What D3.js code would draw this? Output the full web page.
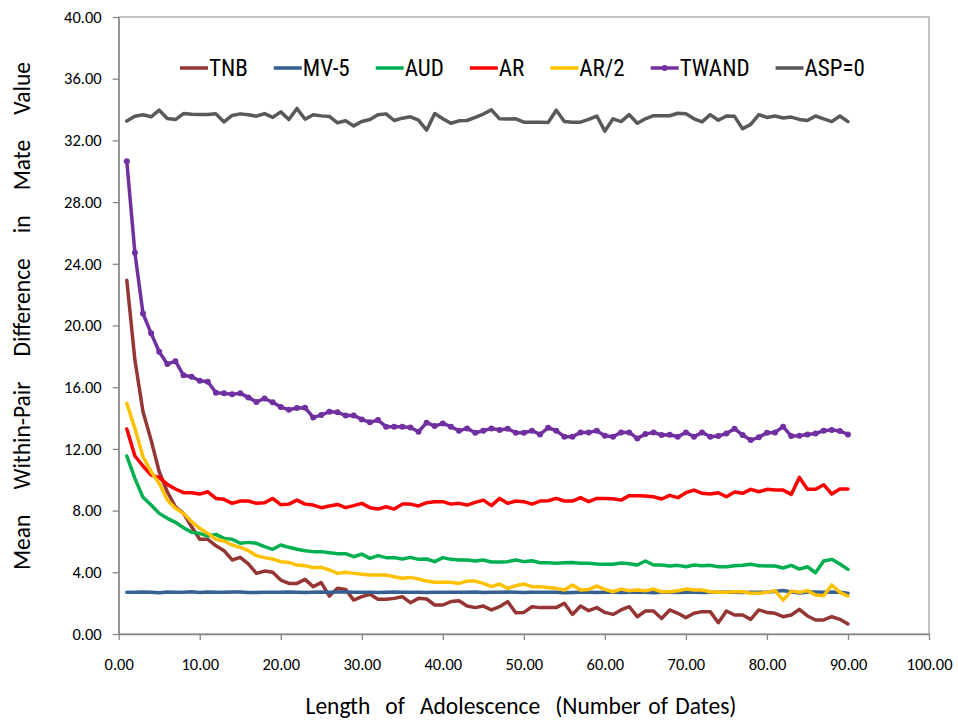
<!DOCTYPE html>
<html>
<head>
<meta charset="utf-8">
<script src="https://cdn.jsdelivr.net/npm/d3@7"></script>
<style>
  html, body { margin: 0; padding: 0; background: #fff; }
  svg { display: block; }
  .tick-label { font-family: Carlito, Lato, sans-serif; font-size: 16.5px; fill: #000; }
  .axis-title { font-family: Carlito, Lato, sans-serif; font-size: 23.5px; fill: #000; }
  .legend-label { font-family: "Liberation Sans Narrow", "Roboto Condensed", Lato, sans-serif; font-size: 23px; fill: #000; }
</style>
</head>
<body>
<svg id="chart" width="958" height="722"></svg>
<script>
// ── Data (x = 1..90 dates, one value per date) ─────────────────
const SERIES_NAMES  = ['TNB', 'MV-5', 'AUD', 'AR', 'AR/2', 'TWAND', 'ASP=0'];
const SERIES_COLORS = ['#943634', '#376092', '#00B050', '#FF0000', '#FFC000', '#7030A0', '#595959'];

const TNB = [22.94, 17.76, 14.41, 12.57, 10.52, 9.22, 8.25, 7.82, 6.95, 6.14,
  6.14, 5.72, 5.40, 4.80, 4.97, 4.54, 3.93, 4.08, 4.00, 3.50,
  3.28, 3.28, 3.54, 3.07, 3.33, 2.46, 2.96, 2.89, 2.20, 2.42,
  2.57, 2.25, 2.25, 2.31, 2.42, 2.03, 2.31, 2.27, 1.88, 1.88,
  2.10, 2.16, 1.81, 1.71, 1.81, 1.56, 1.77, 2.10, 1.38, 1.40,
  1.77, 1.71, 1.71, 1.71, 1.99, 1.27, 1.81, 1.51, 1.71, 1.40,
  1.27, 1.56, 1.77, 1.12, 1.49, 1.49, 1.01, 1.56, 1.34, 1.06,
  1.34, 1.45, 1.45, 0.73, 1.49, 1.23, 1.23, 0.95, 1.56, 1.40,
  1.34, 1.12, 1.23, 1.60, 1.17, 0.91, 0.91, 1.12, 0.95, 0.65];

const MV5 = [2.70, 2.70, 2.72, 2.70, 2.68, 2.73, 2.70, 2.70, 2.74, 2.69,
  2.73, 2.70, 2.71, 2.72, 2.73, 2.69, 2.69, 2.70, 2.70, 2.71,
  2.72, 2.70, 2.69, 2.71, 2.73, 2.70, 2.72, 2.72, 2.71, 2.70,
  2.70, 2.69, 2.71, 2.72, 2.70, 2.70, 2.71, 2.69, 2.70, 2.71,
  2.70, 2.71, 2.70, 2.72, 2.69, 2.70, 2.71, 2.72, 2.70, 2.69,
  2.70, 2.71, 2.70, 2.70, 2.68, 2.69, 2.71, 2.70, 2.69, 2.70,
  2.71, 2.69, 2.70, 2.71, 2.70, 2.68, 2.70, 2.70, 2.69, 2.71,
  2.70, 2.69, 2.70, 2.70, 2.72, 2.70, 2.69, 2.71, 2.70, 2.72,
  2.76, 2.82, 2.72, 2.66, 2.72, 2.73, 2.70, 2.73, 2.70, 2.64];

const AUD = [11.54, 10.09, 8.86, 8.36, 7.82, 7.50, 7.24, 6.89, 6.59, 6.52,
  6.35, 6.46, 6.20, 6.14, 5.88, 5.94, 5.88, 5.66, 5.49, 5.77,
  5.62, 5.49, 5.40, 5.34, 5.34, 5.27, 5.21, 5.21, 5.01, 5.18,
  4.90, 5.08, 4.95, 4.95, 4.86, 4.97, 4.84, 4.86, 4.69, 4.95,
  4.84, 4.80, 4.80, 4.73, 4.80, 4.67, 4.67, 4.69, 4.80, 4.69,
  4.75, 4.62, 4.62, 4.58, 4.62, 4.64, 4.58, 4.58, 4.54, 4.52,
  4.52, 4.60, 4.56, 4.47, 4.73, 4.47, 4.47, 4.41, 4.45, 4.36,
  4.47, 4.43, 4.45, 4.36, 4.36, 4.43, 4.45, 4.52, 4.43, 4.41,
  4.41, 4.28, 4.45, 4.21, 4.36, 3.97, 4.73, 4.84, 4.54, 4.19];

const AR = [13.29, 11.54, 10.89, 10.30, 10.15, 9.70, 9.40, 9.16, 9.16, 9.07,
  9.22, 8.79, 8.73, 8.47, 8.62, 8.62, 8.47, 8.51, 8.79, 8.38,
  8.42, 8.68, 8.42, 8.36, 8.19, 8.30, 8.40, 8.19, 8.32, 8.47,
  8.19, 8.10, 8.25, 8.10, 8.42, 8.42, 8.30, 8.51, 8.58, 8.58,
  8.42, 8.47, 8.36, 8.53, 8.68, 8.32, 8.79, 8.47, 8.62, 8.58,
  8.42, 8.62, 8.64, 8.79, 8.62, 8.62, 8.84, 8.58, 8.79, 8.79,
  8.77, 8.68, 8.97, 8.97, 8.94, 8.90, 8.75, 8.99, 8.84, 9.16,
  9.33, 9.12, 9.07, 9.16, 8.90, 9.20, 9.12, 9.38, 9.22, 9.38,
  9.33, 9.33, 9.05, 10.15, 9.38, 9.38, 9.68, 9.07, 9.40, 9.40];

const AR_HALF = [14.95, 13.33, 11.49, 10.52, 9.77, 8.68, 8.15, 7.82, 7.28, 6.85,
  6.52, 6.14, 6.03, 5.77, 5.62, 5.40, 5.08, 4.95, 4.86, 4.69,
  4.64, 4.47, 4.43, 4.30, 4.32, 4.15, 3.93, 4.00, 3.93, 3.87,
  3.82, 3.82, 3.82, 3.71, 3.61, 3.67, 3.56, 3.43, 3.35, 3.35,
  3.35, 3.28, 3.43, 3.43, 3.28, 3.07, 3.24, 2.96, 3.13, 3.24,
  3.07, 3.07, 3.02, 2.96, 2.85, 3.18, 2.85, 2.89, 3.11, 2.89,
  2.74, 2.91, 2.81, 2.85, 2.81, 2.91, 2.74, 2.74, 2.81, 2.91,
  2.85, 2.85, 2.74, 2.70, 2.70, 2.74, 2.74, 2.64, 2.64, 2.70,
  2.81, 2.20, 2.78, 2.70, 2.81, 2.53, 2.48, 3.18, 2.70, 2.46];

const TWAND = [30.65, 24.71, 20.78, 19.49, 18.30, 17.50, 17.69, 16.77, 16.68, 16.42,
  16.35, 15.64, 15.60, 15.55, 15.60, 15.34, 15.04, 15.27, 15.02, 14.71,
  14.54, 14.65, 14.67, 14.04, 14.19, 14.41, 14.37, 14.17, 14.17, 13.91,
  13.72, 13.87, 13.44, 13.44, 13.44, 13.39, 13.11, 13.70, 13.48, 13.65,
  13.44, 13.18, 13.33, 13.05, 13.18, 13.33, 13.22, 13.31, 13.05, 13.05,
  13.18, 12.94, 13.37, 13.18, 12.79, 12.79, 13.07, 13.07, 13.18, 12.85,
  12.79, 13.07, 13.07, 12.68, 12.96, 13.07, 12.90, 12.92, 12.79, 13.07,
  12.79, 13.07, 12.79, 12.83, 13.00, 13.31, 12.90, 12.57, 12.75, 13.05,
  13.07, 13.44, 12.83, 12.85, 12.94, 13.00, 13.18, 13.22, 13.16, 12.94];

const ASP0 = [33.25, 33.57, 33.66, 33.53, 33.96, 33.42, 33.35, 33.74, 33.70, 33.68,
  33.68, 33.72, 33.20, 33.62, 33.72, 33.66, 33.57, 33.74, 33.49, 33.85,
  33.35, 34.07, 33.37, 33.66, 33.59, 33.55, 33.14, 33.27, 32.94, 33.23,
  33.35, 33.66, 33.72, 33.29, 33.44, 33.53, 33.31, 32.66, 33.74, 33.40,
  33.11, 33.27, 33.29, 33.49, 33.71, 33.98, 33.40, 33.38, 33.40, 33.18,
  33.18, 33.18, 33.16, 33.96, 33.23, 33.18, 33.18, 33.36, 33.58, 32.60,
  33.40, 33.22, 33.67, 33.11, 33.40, 33.60, 33.60, 33.60, 33.76, 33.72,
  33.40, 33.20, 33.67, 33.31, 33.58, 33.56, 32.75, 33.04, 33.67, 33.49,
  33.58, 33.45, 33.51, 33.36, 33.29, 33.58, 33.40, 33.22, 33.58, 33.22];

const SERIES_VALUES = [TNB, MV5, AUD, AR, AR_HALF, TWAND, ASP0];

const X_TICKS = [0, 10, 20, 30, 40, 50, 60, 70, 80, 90, 100];
const Y_TICKS = [0, 4, 8, 12, 16, 20, 24, 28, 32, 36, 40];

const X_TITLE = 'Length  of  Adolescence  (Number of Dates)';
const Y_TITLE = 'Mean  Within-Pair  Difference  in  Mate  Value';

// ── Layout ─────────────────────────────────────────────────────
const W = 958, H = 722;
const M = { left: 118.7, right: 929, top: 17, bottom: 634 };
const AXIS_COLOR = '#868686';

const svg = d3.select('#chart');
svg.append('rect').attr('width', W).attr('height', H).attr('fill', '#fff');

const x = d3.scaleLinear().domain([0, 100]).range([M.left, M.right]);
const y = d3.scaleLinear().domain([0, 40]).range([M.bottom, M.top]);
const fmt = d3.format('.2f');

// ── Plot area frame ────────────────────────────────────────────
svg.append('rect')
  .attr('x', M.left).attr('y', M.top)
  .attr('width', M.right - M.left).attr('height', M.bottom - M.top)
  .attr('fill', 'none').attr('stroke', AXIS_COLOR).attr('stroke-width', 1);

// ── Axes ───────────────────────────────────────────────────────
const xAxis = svg.append('g')
  .attr('transform', `translate(0,${M.bottom})`)
  .call(d3.axisBottom(x).tickValues(X_TICKS).tickFormat(fmt).tickSizeInner(6).tickSizeOuter(0).tickPadding(18));
const yAxis = svg.append('g')
  .attr('transform', `translate(${M.left},0)`)
  .call(d3.axisLeft(y).tickValues(Y_TICKS).tickFormat(fmt).tickSizeInner(6).tickSizeOuter(0).tickPadding(11));

[xAxis, yAxis].forEach(g => {
  g.select('.domain').attr('stroke', AXIS_COLOR).attr('stroke-width', 1.3);
  g.selectAll('.tick line').attr('stroke', AXIS_COLOR).attr('stroke-width', 1.3);
  g.selectAll('.tick text').attr('class', 'tick-label').attr('fill', '#000');
});
xAxis.selectAll('.tick text').attr('dy', '0.71em');

// ── Axis titles (extra room goes into the word gaps only) ──────
function spacedTitle(sel, txt, width) {
  sel.attr('class', 'axis-title')
    .attr('text-anchor', 'middle')
    .style('white-space', 'pre')
    .text(txt);
  const natural = sel.node().getComputedTextLength();
  const gaps = (txt.match(/ /g) || []).length;
  sel.attr('word-spacing', Math.max(0, (width - natural) / gaps));
}

spacedTitle(svg.append('text').attr('x', 521).attr('y', 714), X_TITLE, 431);
spacedTitle(svg.append('text').attr('transform', 'translate(30,316) rotate(-90)'), Y_TITLE, 508);

// ── Lines ──────────────────────────────────────────────────────
const line = d3.line()
  .x((d, i) => x(i + 1))
  .y(d => y(d));

const seriesG = svg.append('g');
SERIES_VALUES.forEach((vals, s) => {
  seriesG.append('path')
    .attr('d', line(vals))
    .attr('fill', 'none')
    .attr('stroke', SERIES_COLORS[s])
    .attr('stroke-width', 3.5)
    .attr('stroke-linejoin', 'round')
    .attr('stroke-linecap', 'round');

  if (SERIES_NAMES[s] === 'TWAND') {
    seriesG.append('g').selectAll('circle')
      .data(vals).join('circle')
      .attr('cx', (d, i) => x(i + 1))
      .attr('cy', d => y(d))
      .attr('r', 3)
      .attr('fill', SERIES_COLORS[s]);
  }
});

// ── Legend ─────────────────────────────────────────────────────
const legend = svg.append('g').attr('transform', 'translate(180,68)');
let lx = 0;
SERIES_NAMES.forEach((name, s) => {
  const item = legend.append('g').attr('transform', `translate(${lx},0)`);
  item.append('line')
    .attr('x1', 0).attr('x2', 28).attr('y1', 0).attr('y2', 0)
    .attr('stroke', SERIES_COLORS[s]).attr('stroke-width', 3.5);
  if (name === 'TWAND') {
    item.append('circle').attr('cx', 14).attr('cy', 0).attr('r', 3).attr('fill', SERIES_COLORS[s]);
  }
  const t = item.append('text')
    .attr('class', 'legend-label')
    .attr('x', 29).attr('y', 8)
    .text(name);
  lx += 29 + t.node().getComputedTextLength() + 26;
});
</script>
</body>
</html>
